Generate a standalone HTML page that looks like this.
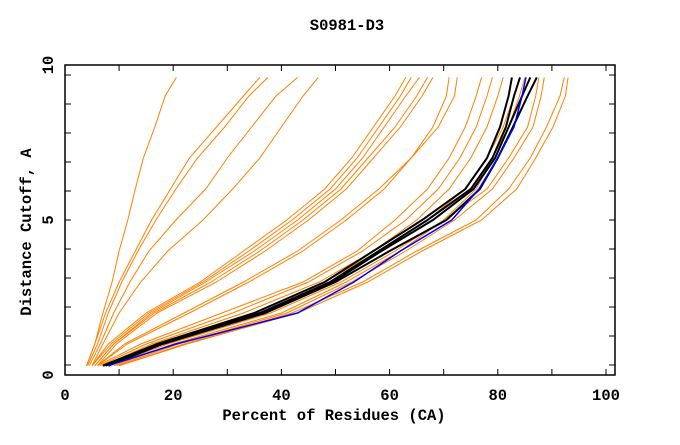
<!DOCTYPE html>
<html><head><meta charset="utf-8"><style>
body{margin:0;background:#fff}
svg text{font-family:"Liberation Mono",monospace;font-weight:bold;font-size:15.5px;fill:#000}
</style></head><body>
<svg id="chart" width="680" height="440">
<text x="347" y="30" text-anchor="middle">S0981-D3</text>
<text x="334" y="420" text-anchor="middle">Percent of Residues (CA)</text>
<text transform="translate(31,232) rotate(-90)" text-anchor="middle">Distance Cutoff, A</text>
<g id="axes"></g>
<g id="series"></g>
<rect x="65" y="65" width="550" height="310" fill="none" stroke="#000" stroke-width="1.5"/>
</svg>
<script>
const levels=[0.3,1,2,3,4,5,6,7,8,9,9.6];
const xTicks=[0,20,40,60,80,100];
const yTicks=[0,5,10];
const orange=[
[4,5.5,7,8.7,10,11.6,13,14.5,16.6,18.5,20.6],
[4,5.5,7.5,10,13,16,19.5,23,28,33,36],
[4.2,6,8,10.5,13.5,16.8,20.5,24.5,29.5,34,37.5],
[4.5,6.5,9,12,15.5,20.5,26,30,34.5,39,43],
[5,7,10,14,19,25.5,31,36,40,44,46.8],
[5,8,15,25,33,41,48,53,57,61,63],
[5,8.5,15.5,25.5,34,42,49,54,58,62,64],
[5.5,9,16,26,35,43,50,55,59,63,65.5],
[5.5,9,16.5,27,36,44,51,56,61,65,67],
[6,9.5,17,28,37,45,52,57,62,66,68],
[6,11,22,33,43,51,58,64,69,72,72.5],
[6,11.5,23,34,44,52,59,64,68,70.5,71],
[6,14,29,44,54,61,67,71,74,76,77],
[6.5,15,31,45,55,63,69,73,76,78,79],
[7,16,33,47,57,65,71,75,78,80,81],
[7,17,35,48,58,67,74,78,81,83,84],
[8,19,38,51,61,70,76,79,82,84,85],
[9,20,40,52,62,70,78,82,85.5,87,87.6],
[9.5,21,41,53,63,72,79,83,86.5,88,88.6],
[10,22,42,55,65,76,82,86,89,91.5,92.3],
[10,22.5,43,56,66,77,83.5,87,90.2,92.5,93]
];
const black=[
[7,17,35,48,57,66,74,78,80.4,82,82.6],
[7,17.5,36,49,58,67,75,79,81.5,83,84.1],
[7.5,18,36.5,49.5,58.5,68,75.5,79.5,82,84.5,86],
[8,18,37,50,60,70.5,76.7,80,82.8,85.5,87.2]
];
const blue=[[8,20.5,43,53.4,62,71.5,76.5,80,83,84.5,85.2]];
const NS="http://www.w3.org/2000/svg";
function sx(v){return 65+v*5.41;}
function sy(v){return 375-v*31;}
const axes=document.getElementById('axes');
function mk(tag,attrs,parent){const e=document.createElementNS(NS,tag);for(const k in attrs)e.setAttribute(k,attrs[k]);parent.appendChild(e);return e;}
for(let i=0;i<=10;i++){
  const x=sx(i*10);
  const t=mk('line',{x1:x,x2:x,y1:375,y2:369,stroke:'#000'},axes);
  
  
  const t2=mk('line',{x1:x,x2:x,y1:65,y2:71,stroke:'#000'},axes);
  
  
}
for(let k=-5;k<=5;k++){
  const y=220+k*29;
  if(y>375||y<66)continue;
  const t=mk('line',{x1:65,x2:71,y1:y,y2:y,stroke:'#000'},axes);
  
  
  const t2=mk('line',{x1:615,x2:609,y1:y,y2:y,stroke:'#000'},axes);
  
  
}
xTicks.forEach(v=>{
  const t=mk('text',{x:sx(v),y:400,'text-anchor':'middle'},axes);t.textContent=v;
  
  
});
yTicks.forEach(v=>{
  const t=mk('text',{transform:`translate(53,${sy(v)}) rotate(-90)`,'text-anchor':'middle'},axes);t.textContent=v;
  
  
});
const g=document.getElementById('series');
function draw(set,color,w,name){
  set.forEach(s=>{
    const d=s.map((v,i)=>(i?'L':'M')+sx(v).toFixed(1)+','+sy(levels[i]).toFixed(1)).join('');
    const p=mk('path',{d:d,fill:'none',stroke:color,'stroke-width':w},g);
    
    
  });
}
draw(orange,'#ff8000',1,'orange-curve');
draw(black,'#000',2,'black-curve');
draw(blue,'#0000ff',1.5,'blue-curve');
</script>
</body></html>
